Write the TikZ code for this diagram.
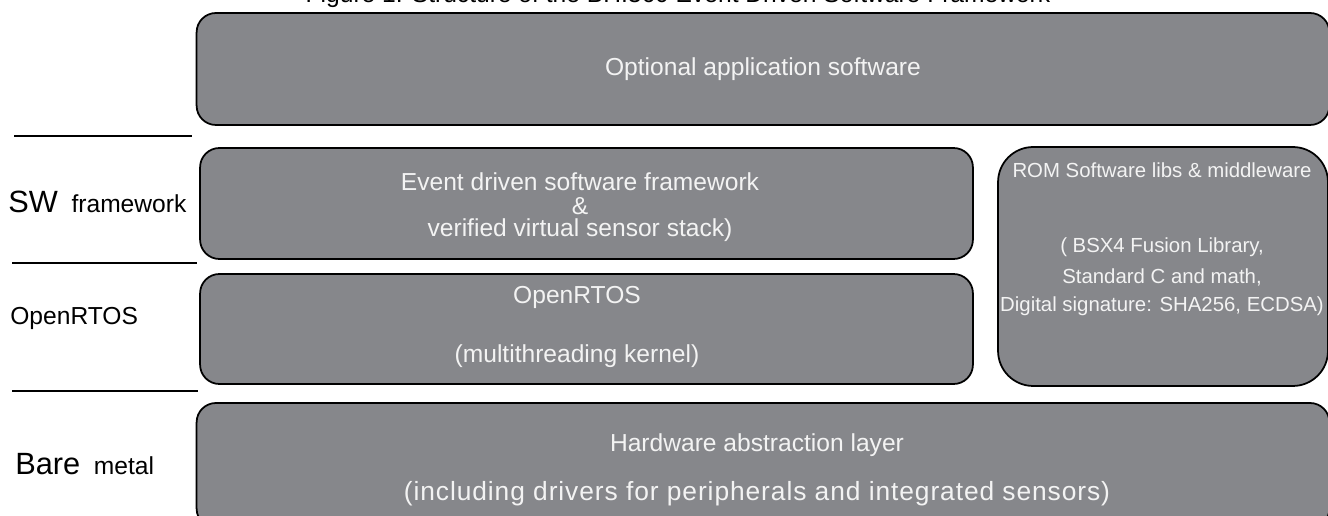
\documentclass[tikz,border=0pt]{standalone}
\usepackage{fontspec}
\setmainfont{Liberation Sans}
\usepackage{xcolor}
\usepackage{tikz}

\definecolor{layergray}{RGB}{134,135,139}
\definecolor{layertext}{RGB}{243,243,243}

\begin{document}
\begin{tikzpicture}[x=0.02cm,y=-0.02cm]
      \tikzset{layer/.style={rectangle,draw=black,fill=layergray,line width=1pt,rounded corners=11pt,inner sep=0pt}}
      \tikzset{romlayer/.style={layer,rounded corners=20pt}}
      \tikzset{txt/.style={text=layertext,inner sep=0pt,font=\fontsize{14}{16}\selectfont}}
      \tikzset{smalltxt/.style={txt,font=\fontsize{11.6}{14}\selectfont}}
      \tikzset{widetxt/.style={txt,font=\fontsize{15}{17}\selectfont\addfontfeature{LetterSpace=3.5}}}
      \tikzset{tag/.style={anchor=west,inner sep=0pt,text=black,font=\fontsize{14}{16}\selectfont}}
      \tikzset{sep/.style={draw=black,line width=0.8pt}}
      \def\tagbig{\fontsize{17.5}{20}\selectfont}

      \useasboundingbox (0,0) rectangle (1328,516);
      \clip (0,0) rectangle (1328,516);

      % caption, cut by the page top
      \node[anchor=base,inner sep=0pt,font=\fontsize{14}{16}\selectfont] (caption) at (678,3)
        {Figure 1: Structure of the BHI360 Event Driven Software Framework};

      % layers
      \node[layer,minimum width=22.66cm,minimum height=2.24cm] (app) at (763,69) {};
      \node[layer,minimum width=15.46cm,minimum height=2.22cm] (sw) at (586.5,203.5) {};
      \node[layer,minimum width=15.46cm,minimum height=2.2cm] (rtos) at (586.5,329) {};
      \node[romlayer,minimum width=6.6cm,minimum height=4.78cm] (rom) at (1163,266.5) {};
      \node[layer,minimum width=22.66cm,minimum height=2.5cm] (hal) at (763,465.5) {};

      % texts in the layers
      \node[txt] (apptxt) at (app.center) {Optional application software};
      \node[txt] (swa) at (580,182) {Event driven software framework};
      \node[txt] (swb) at (580,206) {\&};
      \node[txt] (swc) at (580,230) {verified virtual sensor stack)};
      \node[txt] (rtosa) at (577,297) {OpenRTOS};
      \node[txt] (rtosb) at (577,356) {(multithreading kernel)};
      \node[smalltxt] (roma) at (1162,170) {ROM Software libs \& middleware};
      \node[smalltxt] (romb) at (1162,247) {( BSX4 Fusion Library,};
      \node[smalltxt] (romc) at (1162,277) {Standard C and math,};
      \node[smalltxt] (romd) at (1162,306) {Digital signature: SHA256, ECDSA)};
      \node[txt] (hala) at (757,445) {Hardware abstraction layer};
      \node[widetxt] (halb) at (757,494) {(including drivers for peripherals and integrated sensors)};

      % left side
      \draw[sep] (14,136) -- (192,136);
      \draw[sep] (12,263) -- (197,263);
      \draw[sep] (12,391) -- (198,391);
      \node[tag] (swtag) at (8,202) {{\tagbig SW}\ \ framework};
      \node[tag] (rtostag) at (10,318) {OpenRTOS};
      \node[tag] (baretag) at (15,464) {{\tagbig Bare}\ \ metal};
\end{tikzpicture}
\end{document}
